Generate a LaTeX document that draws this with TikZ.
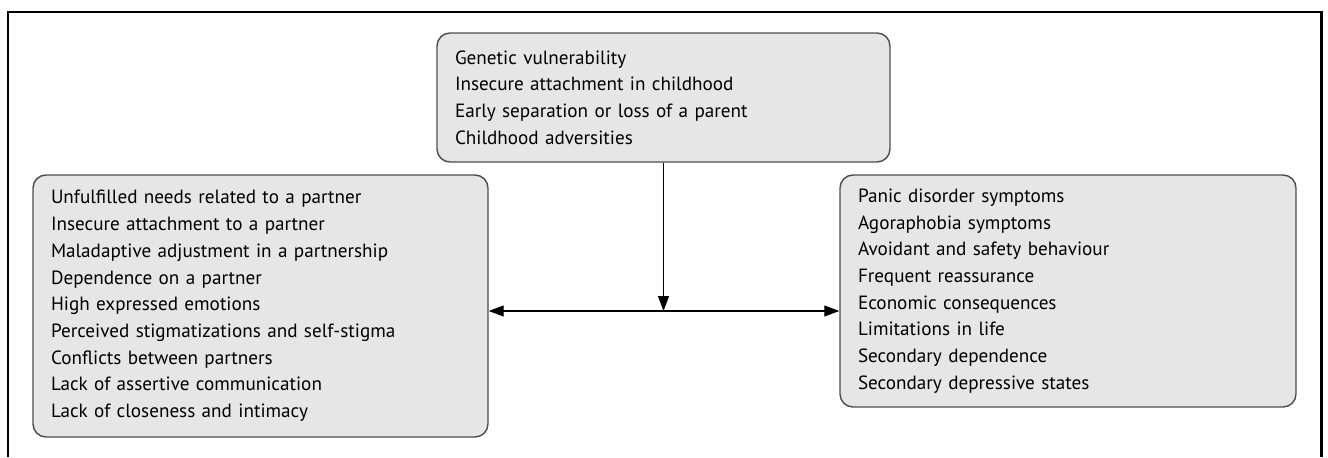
\documentclass[tikz,border=0pt]{standalone}
\usepackage{fontspec}
\setmainfont{PT Sans}
\usetikzlibrary{arrows.meta}
\definecolor{hopxam}{HTML}{E6E6E6}
\definecolor{vienxam}{HTML}{4D4D4D}
\tikzset{
  hop/.style={draw=vienxam, fill=hopxam, line width=0.8pt, rounded corners=0.26cm,
    align=left, inner xsep=0.36cm, inner ysep=0pt,
    font=\fontsize{10.9}{15.2}\selectfont},
  dau/.tip={Triangle[length=0.3cm,width=0.22cm]}
}
\begin{document}
\begin{tikzpicture}
    \useasboundingbox (0,0) rectangle (26.56,9.14);
    % Khung ngoài
    \draw[line width=1.7pt] (0.16,0) -- (0.16,8.9) -- (26.42,8.9) -- (26.42,0);

    % Hộp trên
    \node[hop, minimum width=9.06cm, minimum height=2.58cm, text width=8.34cm]
        (tren) at (13.27,7.19) {Genetic vulnerability\\
        Insecure attachment in childhood\\
        Early separation or loss of a parent\\
        Childhood adversities};

    % Hộp trái
    \node[hop, minimum width=9.1cm, minimum height=5.24cm, text width=8.38cm]
        (trai) at (5.21,3.02) {Unfulfilled needs related to a partner\\
        Insecure attachment to a partner\\
        Maladaptive adjustment in a partnership\\
        Dependence on a partner\\
        High expressed emotions\\
        Perceived stigmatizations and self-stigma\\
        Conflicts between partners\\
        Lack of assertive communication\\
        Lack of closeness and intimacy};

    % Hộp phải
    \node[hop, minimum width=9.12cm, minimum height=4.64cm, text width=8.4cm]
        (phai) at (21.36,3.32) {Panic disorder symptoms\\
        Agoraphobia symptoms\\
        Avoidant and safety behaviour\\
        Frequent reassurance\\
        Economic consequences\\
        Limitations in life\\
        Secondary dependence\\
        Secondary depressive states};

    % Mũi tên
    \coordinate (giao) at (13.27,2.92);
    \draw[line width=0.6pt, -dau] (tren.south) -- (giao);
    \draw[line width=0.6pt, dau-dau] (trai.east |- giao) -- (phai.west |- giao);
\end{tikzpicture}
\end{document}
